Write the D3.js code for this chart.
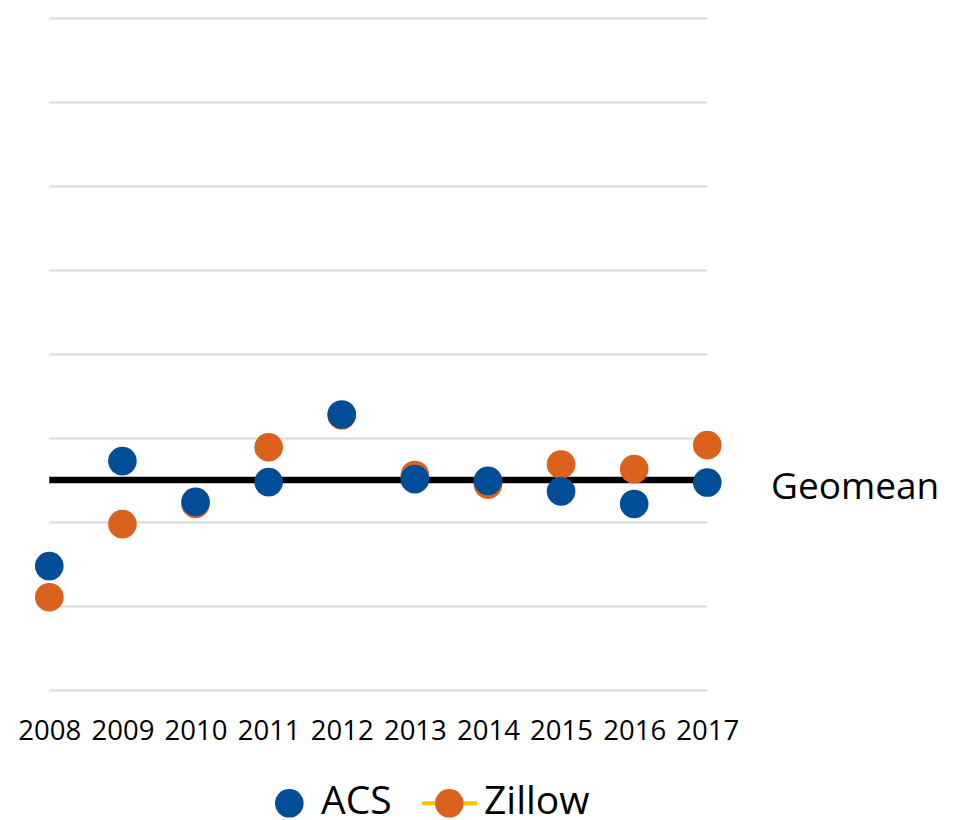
<!DOCTYPE html>
<html>
<head>
<meta charset="utf-8">
<script src="https://cdn.jsdelivr.net/npm/d3@7"></script>
<style>
  html, body { margin: 0; padding: 0; background: #fff; }
  svg { display: block; font-family: "Open Sans", sans-serif; }
</style>
</head>
<body>
<svg id="chart" width="958" height="820"></svg>
<script>
// Years on the x axis
const years = ["2008", "2009", "2010", "2011", "2012", "2013", "2014", "2015", "2016", "2017"];
// Series values
const acs    = [0.295, 0.545, 0.448, 0.495, 0.656, 0.502, 0.498, 0.473, 0.443, 0.494];
const zillow = [0.221, 0.395, 0.443, 0.578, 0.654, 0.512, 0.489, 0.537, 0.526, 0.583];
// Reference line
const geomean = 0.5;
// Gridline values (labels are not shown)
const gridTicks = [0, 0.2, 0.4, 0.6, 0.8, 1.0, 1.2, 1.4, 1.6];

const BLUE = "#024d97";
const ORANGE = "#da621c";
const GOLD = "#ffc000";

const svg = d3.select("#chart");
const plotLeft = 49.3, plotRight = 707.3, plotTop = 18, plotBottom = 690;

const x = d3.scalePoint().domain(years).range([plotLeft, plotRight]);
const y = d3.scaleLinear().domain([0, 1.6]).range([plotBottom, plotTop]);

// Horizontal gridlines
const grid = svg.append("g")
  .attr("transform", `translate(${plotLeft},0)`)
  .call(d3.axisLeft(y).tickValues(gridTicks).tickSize(-(plotRight - plotLeft)).tickFormat(""));
grid.select(".domain").remove();
grid.selectAll(".tick line").attr("stroke", "#d9d9d9").attr("stroke-width", 2);

// Year labels
const xAxis = svg.append("g")
  .call(d3.axisBottom(x).tickSize(0));
xAxis.select(".domain").remove();
xAxis.selectAll(".tick text")
  .attr("y", 740).attr("dy", null)
  .attr("font-size", 27.5).attr("font-family", "Open Sans, sans-serif")
  .attr("fill", "#000");

// Geomean reference line and its label
svg.append("line")
  .attr("x1", x(years[0])).attr("x2", x(years[years.length - 1]))
  .attr("y1", y(geomean)).attr("y2", y(geomean))
  .attr("stroke", "#000").attr("stroke-width", 6.5);
svg.append("text")
  .attr("x", 771).attr("y", y(geomean) + 19)
  .attr("font-size", 37).attr("fill", "#000")
  .text("Geomean");

// Points: Zillow below, ACS on top
const r = 14.3;
svg.append("g").selectAll("circle").data(zillow).join("circle")
  .attr("cx", (d, i) => x(years[i])).attr("cy", d => y(d))
  .attr("r", r).attr("fill", ORANGE);
svg.append("g").selectAll("circle").data(acs).join("circle")
  .attr("cx", (d, i) => x(years[i])).attr("cy", d => y(d))
  .attr("r", r).attr("fill", BLUE);

// Legend
const lg = svg.append("g");
lg.append("circle").attr("cx", 289.3).attr("cy", 803.3).attr("r", r).attr("fill", BLUE);
lg.append("text").attr("x", 321).attr("y", 813.5).attr("font-size", 39).attr("fill", "#000").text("ACS");
lg.append("line").attr("x1", 422).attr("x2", 477).attr("y1", 803.3).attr("y2", 803.3)
  .attr("stroke", GOLD).attr("stroke-width", 4);
lg.append("circle").attr("cx", 449.3).attr("cy", 803.3).attr("r", r).attr("fill", ORANGE);
lg.append("text").attr("x", 484).attr("y", 813.5).attr("font-size", 39).attr("fill", "#000").text("Zillow");
</script>
</body>
</html>
